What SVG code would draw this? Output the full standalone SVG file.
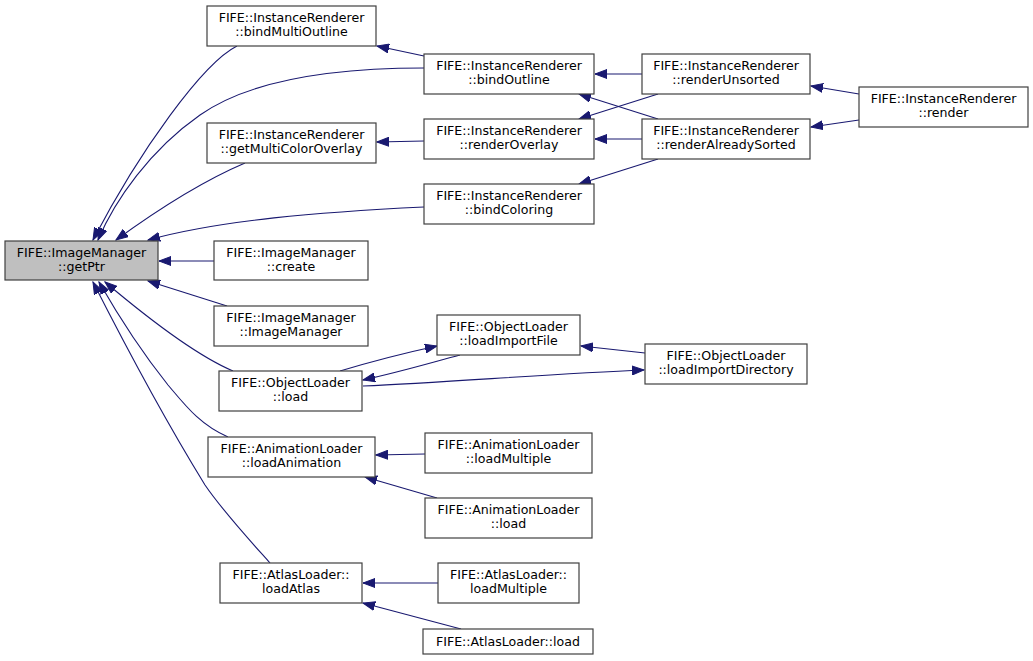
<svg xmlns="http://www.w3.org/2000/svg" width="1033" height="661" viewBox="0 0 1033 661">
<defs>
<style>
.n rect{fill:#ffffff;stroke:#404040;stroke-width:1.2}
.n.h rect{fill:#bfbfbf}
.n text{font-family:"DejaVu Sans",sans-serif;font-size:12.6px;fill:#000;text-anchor:middle}
.e path{fill:none;stroke:#191970;stroke-width:1.1;marker-end:url(#ah)}
</style>
<marker id="ah" markerUnits="userSpaceOnUse" markerWidth="13" markerHeight="10" refX="12" refY="4.5" orient="auto" viewBox="0 0 13 9">
<path d="M0,0 L12,4.5 L0,9 z" fill="#191970" stroke="#191970" stroke-width="1"/>
</marker>
</defs>
<rect width="1033" height="661" fill="#ffffff"/>
<g class="e" id="edges">
<path d="M237,46 C203,63 140,150 93,240"/>
<path d="M424,68 C330,68 250,80 200,115 C150,150 115,200 98,240"/>
<path d="M424,56 L377,46"/>
<path d="M245,163 C205,180 160,208 116,240"/>
<path d="M424,141 L377,142"/>
<path d="M424,207 C320,212 220,220 148,240"/>
<path d="M214,261 L159,261"/>
<path d="M227,306 L148,281"/>
<path d="M233,371 C200,357 150,320 105,282"/>
<path d="M228,437 C200,425 185,405 168,385 C140,350 115,310 99,282"/>
<path d="M270,563 C245,535 222,510 205,485 C165,420 125,345 93,282"/>
<path d="M642,74 L595,74"/>
<path d="M658,94 L579,119"/>
<path d="M658,119 L579,94"/>
<path d="M642,139 L595,139"/>
<path d="M658,159 L579,184"/>
<path d="M859,94 L811,86"/>
<path d="M859,120 L811,127"/>
<path d="M340,371 C370,362 400,354 437,346"/>
<path d="M460,355 C430,363 400,372 363,380"/>
<path d="M363,386 C450,382 550,374 644,370"/>
<path d="M645,353 L581,346"/>
<path d="M425,454 L376,455"/>
<path d="M437,498 L365,477"/>
<path d="M438,583 L363,583"/>
<path d="M461,629 L363,603"/>
</g>
<g class="n h" id="getPtr"><rect x="5" y="241" width="153" height="39"/><text x="81.5" y="257">FIFE::ImageManager</text><text x="81.5" y="270.5">::getPtr</text></g>
<g class="n" id="bindMultiOutline"><rect x="207" y="6" width="169" height="40"/><text x="291.5" y="22">FIFE::InstanceRenderer</text><text x="291.5" y="35.5">::bindMultiOutline</text></g>
<g class="n" id="getMultiColorOverlay"><rect x="207" y="123" width="169" height="40"/><text x="291.5" y="139">FIFE::InstanceRenderer</text><text x="291.5" y="152.5">::getMultiColorOverlay</text></g>
<g class="n" id="bindOutline"><rect x="424" y="54" width="170" height="40"/><text x="509" y="70">FIFE::InstanceRenderer</text><text x="509" y="83.5">::bindOutline</text></g>
<g class="n" id="renderOverlay"><rect x="424" y="119" width="170" height="40"/><text x="509" y="135">FIFE::InstanceRenderer</text><text x="509" y="148.5">::renderOverlay</text></g>
<g class="n" id="bindColoring"><rect x="424" y="184" width="170" height="40"/><text x="509" y="200">FIFE::InstanceRenderer</text><text x="509" y="213.5">::bindColoring</text></g>
<g class="n" id="renderUnsorted"><rect x="642" y="54" width="168" height="40"/><text x="726" y="70">FIFE::InstanceRenderer</text><text x="726" y="83.5">::renderUnsorted</text></g>
<g class="n" id="renderAlreadySorted"><rect x="642" y="119" width="168" height="40"/><text x="726" y="135">FIFE::InstanceRenderer</text><text x="726" y="148.5">::renderAlreadySorted</text></g>
<g class="n" id="render"><rect x="859" y="87" width="169" height="40"/><text x="943.5" y="103">FIFE::InstanceRenderer</text><text x="943.5" y="116.5">::render</text></g>
<g class="n" id="create"><rect x="214" y="241" width="154" height="39"/><text x="291" y="257">FIFE::ImageManager</text><text x="291" y="270.5">::create</text></g>
<g class="n" id="ImageManager"><rect x="214" y="306" width="154" height="40"/><text x="291" y="322">FIFE::ImageManager</text><text x="291" y="335.5">::ImageManager</text></g>
<g class="n" id="ObjectLoaderLoad"><rect x="219" y="371" width="143" height="40"/><text x="290.5" y="387">FIFE::ObjectLoader</text><text x="290.5" y="400.5">::load</text></g>
<g class="n" id="loadImportFile"><rect x="437" y="315" width="143" height="40"/><text x="508.5" y="331">FIFE::ObjectLoader</text><text x="508.5" y="344.5">::loadImportFile</text></g>
<g class="n" id="loadImportDirectory"><rect x="645" y="344" width="162" height="40"/><text x="726" y="360">FIFE::ObjectLoader</text><text x="726" y="373.5">::loadImportDirectory</text></g>
<g class="n" id="loadAnimation"><rect x="208" y="437" width="167" height="40"/><text x="291.5" y="453">FIFE::AnimationLoader</text><text x="291.5" y="466.5">::loadAnimation</text></g>
<g class="n" id="animLoadMultiple"><rect x="425" y="433" width="167" height="40"/><text x="508.5" y="449">FIFE::AnimationLoader</text><text x="508.5" y="462.5">::loadMultiple</text></g>
<g class="n" id="animLoad"><rect x="425" y="498" width="167" height="40"/><text x="508.5" y="514">FIFE::AnimationLoader</text><text x="508.5" y="527.5">::load</text></g>
<g class="n" id="loadAtlas"><rect x="220" y="563" width="142" height="40"/><text x="291" y="579">FIFE::AtlasLoader::</text><text x="291" y="592.5">loadAtlas</text></g>
<g class="n" id="atlasLoadMultiple"><rect x="438" y="563" width="141" height="40"/><text x="508.5" y="579">FIFE::AtlasLoader::</text><text x="508.5" y="592.5">loadMultiple</text></g>
<g class="n" id="atlasLoad"><rect x="423" y="629" width="170" height="25"/><text x="508" y="645.5">FIFE::AtlasLoader::load</text></g>
</svg>
